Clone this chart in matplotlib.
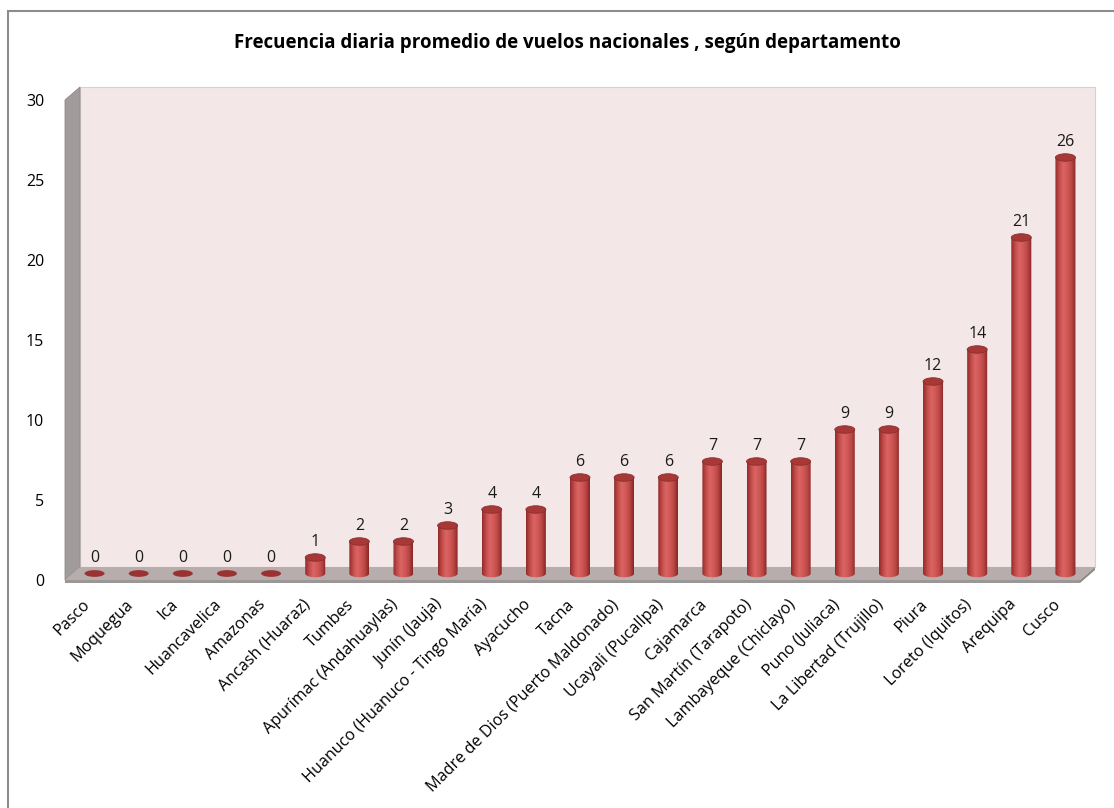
import matplotlib.pyplot as plt
import numpy as np
from matplotlib.patches import Rectangle, Ellipse, Polygon
from matplotlib.colors import LinearSegmentedColormap

plt.rcParams['font.family'] = ['Open Sans', 'DejaVu Sans']

departamentos = ['Pasco', 'Moquegua', 'Ica', 'Huancavelica', 'Amazonas', 'Ancash (Huaraz)', 'Tumbes',
                 'Apurímac (Andahuaylas)', 'Junín (Jauja)', 'Huanuco (Huanuco - Tingo María)', 'Ayacucho',
                 'Tacna', 'Madre de Dios (Puerto Maldonado)', 'Ucayali (Pucallpa)', 'Cajamarca',
                 'San Martín (Tarapoto)', 'Lambayeque (Chiclayo)', 'Puno (Juliaca)', 'La Libertad (Trujillo)',
                 'Piura', 'Loreto (Iquitos)', 'Arequipa', 'Cusco']
vuelos = [0, 0, 0, 0, 0, 1, 2, 2, 3, 4, 4, 6, 6, 6, 7, 7, 7, 9, 9, 12, 14, 21, 26]
yticks = [0, 5, 10, 15, 20, 25, 30]

W, H = 1114, 808
fig = plt.figure(figsize=(W / 100, H / 100), dpi=100)
# front plane of the 3D box: x 65..1080 px, y 580..100 px
ax = fig.add_axes([65 / W, (H - 580) / H, 1015 / W, 480 / H])
n = len(vuelos)
x0, x1 = -0.5, n - 0.5
ax.patch.set_visible(False)
for s in ax.spines.values():
    s.set_visible(False)

pxx = 1015 / n      # px per category
pxy = 16.0          # px per unit
dx, dy = 15 / pxx, 13 / pxy   # depth offset (back plane)

# walls and floor
back = Rectangle((x0 + dx, dy), x1 - x0, 30, facecolor='#f4e7e7', edgecolor='#d6d0d0', lw=0.8,
                 zorder=0, clip_on=False)
left = Polygon([(x0, 0), (x0 + dx, dy), (x0 + dx, 30 + dy), (x0, 30)], facecolor='#a29b9b',
               edgecolor='#8e8888', lw=0.6, zorder=1, clip_on=False)
floor = Polygon([(x0, 0), (x1, 0), (x1 + dx, dy), (x0 + dx, dy)], facecolor='#b7adad',
                edgecolor='none', zorder=1, clip_on=False)
front = Rectangle((x0, -3 / pxy), x1 - x0, 3 / pxy, facecolor='#9c9797', edgecolor='none',
                  zorder=1, clip_on=False)
side = Polygon([(x1, 0), (x1 + dx, dy), (x1 + dx, dy - 3 / pxy), (x1, -3 / pxy)], facecolor='#8f8a8a',
               edgecolor='none', zorder=1, clip_on=False)
for p in (back, left, floor, front, side):
    ax.add_patch(p)

cmap = LinearSegmentedColormap.from_list('cyl', ['#8e2c2c', '#c44c4a', '#da6563', '#d05856',
                                                 '#bb4644', '#842727'])
grad = np.linspace(0, 1, 64).reshape(1, -1)
w = 20 / pxx
eh = 7.5 / pxy
base = dy / 2
for i, v in enumerate(vuelos):
    xc = i + dx / 2
    if v > 0:
        t = np.linspace(np.pi, 2 * np.pi, 40)
        verts = list(zip(xc + w / 2 * np.cos(t), base + eh / 2 * np.sin(t)))
        verts += [(xc + w / 2, base + v), (xc - w / 2, base + v)]
        clip = Polygon(verts, transform=ax.transData)
        im = ax.imshow(grad, extent=[xc - w / 2, xc + w / 2, base - eh, base + v], cmap=cmap,
                       aspect='auto', zorder=3, interpolation='bilinear')
        im.set_clip_path(clip)
        ax.add_patch(Ellipse((xc, base + v), w, eh, facecolor='#a63838', edgecolor='#8c2e2e',
                             lw=0.6, zorder=4))
    else:
        ax.add_patch(Ellipse((xc, base), w, eh * 0.9, facecolor='#9b3131', edgecolor='none',
                             zorder=4))
    ax.text(xc, base + v + 12 / pxy, str(v), ha='center', va='baseline', fontsize=11.5,
            color='#1a1a1a', zorder=5)

ax.set_xlim(x0, x1)
ax.set_ylim(0, 30)
ax.set_yticks(yticks)
ax.set_yticklabels([str(t) for t in yticks], fontsize=11.5)
ax.tick_params(axis='y', length=0, pad=15)
ax.set_xticks(np.arange(n))
ax.set_xticklabels(departamentos, rotation=45, ha='right', va='center', rotation_mode='anchor',
                   fontsize=11.6)
ax.tick_params(axis='x', length=0, pad=16)

fig.text(567 / W, 1 - 43 / H, 'Frecuencia diaria promedio de vuelos nacionales , según departamento',
         ha='center', va='center', fontsize=13.5, fontweight='bold', color='#000000')

fig.add_artist(Rectangle((8 / W, -0.1), 1.2, (H - 11) / H + 0.1, transform=fig.transFigure,
                         fill=False, edgecolor='#8c8c8c', lw=1.5))

fig.savefig('out.png', dpi=100)
